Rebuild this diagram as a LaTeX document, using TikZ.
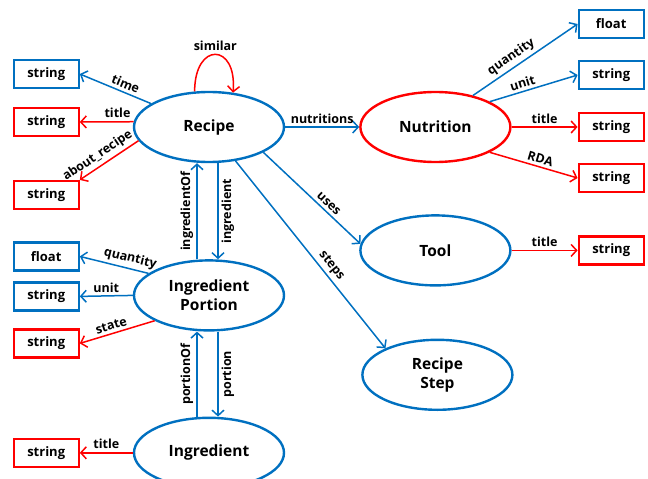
\documentclass[tikz,border=0pt]{standalone}
\usepackage{fontspec}
\setmainfont{Open Sans}
\usetikzlibrary{positioning,shapes.geometric,arrows.meta}
\definecolor{cblue}{HTML}{0070C0}
\definecolor{cred}{HTML}{FF0000}
\tikzstyle{ent} = [ellipse, draw=cblue, line width=2.4pt, minimum width=150pt, minimum height=70pt, inner sep=0pt, align=center,
	font=\bfseries\fontsize{15.5}{19}\selectfont]
\tikzstyle{entr} = [ent, draw=cred]
\tikzstyle{bbox} = [rectangle, draw=cblue, line width=2.2pt, minimum width=65pt, minimum height=28pt, inner sep=0pt,
	font=\bfseries\fontsize{13}{15}\selectfont]
\tikzstyle{rbox} = [bbox, draw=cred]
\tikzstyle{bline} = [draw=cblue, line width=1.5pt, -{Straight Barb[length=5.5pt,width=12pt]}]
\tikzstyle{rline} = [bline, draw=cred]
\tikzstyle{lbl} = [font=\bfseries\fontsize{12.5}{14}\selectfont, inner sep=3pt]

\begin{document}
\begin{tikzpicture}
		\useasboundingbox (-209pt,-352pt) rectangle (439pt,127pt);
		\node[ent] (recipe) {Recipe};
		\node[entr, right=74pt of recipe] (nutrition) {Nutrition};
		\node[ent, below=51pt of nutrition] (tool) {Tool};
		\node[ent, below=52pt of tool, xshift=2pt] (step) {Recipe\\Step};
		\node[ent, below=96pt of recipe] (portion) {Ingredient\\Portion};
		\node[ent, below=85pt of portion] (ingredient) {Ingredient};
		
		\node[bbox, left=53pt of recipe, yshift=53pt] (rTime) {string};
		\node[rbox, left=53pt of recipe, yshift=5pt] (rTitle) {string};
		\node[rbox, left=53pt of recipe, yshift=-68pt] (rAbout) {string};
		\node[bbox, left=53pt of portion, yshift=39pt] (pQty) {float};
		\node[bbox, left=53pt of portion, yshift=-1pt] (pUnit) {string};
		\node[rbox, left=53pt of portion, yshift=-48pt] (pState) {string};
		\node[rbox, left=53pt of ingredient] (iTitle) {string};
		\node[bbox, right=66pt of nutrition, yshift=103pt] (nQty) {float};
		\node[bbox, right=66pt of nutrition, yshift=52pt] (nUnit) {string};
		\node[rbox, right=66pt of nutrition] (nTitle) {string};
		\node[rbox, right=66pt of nutrition, yshift=-51pt] (nRDA) {string};
		\node[rbox, right=66pt of tool] (tTitle) {string};
		
		\path[bline] (recipe.158) -- node[lbl, sloped, above, pos=.4] {time} (rTime.east);
		\path[rline] (recipe.176) -- node[lbl, above, pos=.3] {title} (rTitle.east);
		\path[rline] (recipe.191) -- node[lbl, sloped, above, pos=.6] {about\_recipe} (rAbout.north east);
		\path[rline] (recipe.112) .. controls +(0pt,50pt) and +(4pt,50pt) .. node[lbl, above] {similar} (recipe.55);
		\path[bline] (recipe.east) -- node[lbl, above] {nutritions} (nutrition.west);
		\path[bline] (recipe.-25) -- node[lbl, sloped, above, pos=.62] {uses} (tool.175);
		\path[bline] (recipe.-52) -- node[lbl, sloped, above, pos=.59] {steps} (step.153);
		\path[bline] ([xshift=9pt]recipe.south) -- node[lbl, rotate=90, anchor=north] {ingredient} ([xshift=9pt]portion.north);
		\path[bline] ([xshift=-12pt]portion.north) -- node[lbl, rotate=90, anchor=south] {ingredientOf} ([xshift=-12pt]recipe.south);
		
		\path[bline] (portion.160) -- node[lbl, sloped, above, pos=.3] {quantity} (pQty.east);
		\path[bline] (portion.west) -- node[lbl, above] {unit} (pUnit.east);
		\path[rline] (portion.205) -- node[lbl, sloped, above, pos=.55] {state} (pState.east);
		\path[bline] ([xshift=9pt]portion.south) -- node[lbl, rotate=90, anchor=north] {portion} ([xshift=9pt]ingredient.north);
		\path[bline] ([xshift=-12pt]ingredient.north) -- node[lbl, rotate=90, anchor=south] {portionOf} ([xshift=-12pt]portion.south);
		\path[rline] (ingredient.west) -- node[lbl, above] {title} (iTitle.east);
		
		\path[bline] (nutrition.40) -- node[lbl, sloped, above, pos=.42] {quantity} (nQty.west);
		\path[bline] (nutrition.25) -- node[lbl, sloped, above, pos=.4] {unit} (nUnit.west);
		\path[rline] (nutrition.east) -- node[lbl, above] {title} (nTitle.west);
		\path[rline] (nutrition.-25) -- node[lbl, sloped, above, pos=.55] {RDA} (nRDA.west);
		\path[rline] (tool.east) -- node[lbl, above] {title} (tTitle.west);
	\end{tikzpicture}
\end{document}
